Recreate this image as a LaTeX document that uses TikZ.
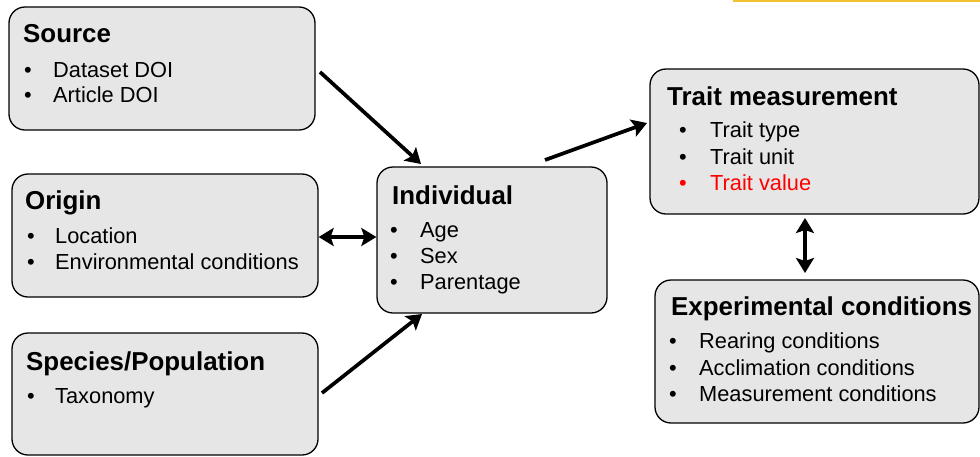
\documentclass[tikz,border=0pt]{standalone}
\usepackage{fontspec}
\setmainfont{Liberation Sans}
\usetikzlibrary{arrows.meta}
\definecolor{boxgray}{HTML}{E6E6E6}
\definecolor{topline}{HTML}{F2C232}
\newcommand\ttlfont{\fontsize{25.9}{30}\selectfont\bfseries}
\newcommand\bdyfont{\fontsize{21.8}{25}\selectfont}
\newcommand\bul[2][30pt]{\makebox[#1][l]{•}#2}
\tikzset{
  box/.style={draw=black, line width=1.3pt, fill=boxgray, rounded corners=16pt, inner sep=0pt},
  ttl/.style={anchor=base west, inner sep=0pt, font=\ttlfont},
  bdy/.style={anchor=base west, inner sep=0pt, font=\bdyfont},
  arr/.style={line width=3.7pt, -{Stealth[length=15pt,width=18pt,inset=3pt]}},
  darr/.style={line width=3.7pt, {Stealth[length=15pt,width=18pt,inset=3pt]}-{Stealth[length=15pt,width=18pt,inset=3pt]}}
}
\begin{document}
\begin{tikzpicture}[x=1pt,y=-1pt]
\useasboundingbox (0,0) rectangle (980,456);
% top yellow line
\coordinate (yl1) at (733,1);
\coordinate (yl2) at (980,1);
\draw[topline, line width=2pt] (yl1) -- (yl2);
% boxes
\node[box, minimum width=306pt, minimum height=123pt] (src) at (162,68.5) {};
\node[box, minimum width=306pt, minimum height=123pt] (org) at (165,235.5) {};
\node[box, minimum width=306pt, minimum height=122pt] (spc) at (165,394) {};
\node[box, minimum width=230pt, minimum height=146pt] (ind) at (492,240) {};
\node[box, minimum width=329pt, minimum height=145pt] (trt) at (814.5,141.5) {};
\node[box, minimum width=324pt, minimum height=143pt] (exp) at (817,351.5) {};
% Source
\node[ttl] (srct) at (23,42) {Source};
\node[bdy] (src1) at (24,77) {\bul[29pt]{Dataset DOI}};
\node[bdy] (src2) at (24,102) {\bul[29pt]{Article DOI}};
% Origin
\node[ttl] (orgt) at (25,209) {Origin};
\node[bdy] (org1) at (27,243) {\bul[28pt]{Location}};
\node[bdy] (org2) at (27,269) {\bul[28pt]{Environmental conditions}};
% Species
\node[ttl] (spct) at (26,370) {Species/Population};
\node[bdy] (spc1) at (27,403) {\bul[28pt]{Taxonomy}};
% Individual
\node[ttl] (indt) at (392,204) {Individual};
\node[bdy] (ind1) at (390,237) {\bul{Age}};
\node[bdy] (ind2) at (390,263) {\bul{Sex}};
\node[bdy] (ind3) at (390,289) {\bul{Parentage}};
% Trait
\node[ttl] (trtt) at (667,105) {Trait measurement};
\node[bdy] (trt1) at (679,137) {\bul[31pt]{Trait type}};
\node[bdy] (trt2) at (679,164) {\bul[31pt]{Trait unit}};
\node[bdy, text=red] (trt3) at (679,190) {\bul[31pt]{Trait value}};
% Experimental
\node[ttl] (expt) at (671,315) {Experimental conditions};
\node[bdy] (exp1) at (669,348) {\bul{Rearing conditions}};
\node[bdy] (exp2) at (669,375) {\bul{Acclimation conditions}};
\node[bdy] (exp3) at (669,401) {\bul{Measurement conditions}};
% connector end points
\coordinate (a1s) at (320,72);   \coordinate (a1e) at (421,164);
\coordinate (a2s) at (545,160);  \coordinate (a2e) at (647,123);
\coordinate (a3s) at (322,393);  \coordinate (a3e) at (422,314);
\coordinate (a4s) at (805,218);  \coordinate (a4e) at (805,273);
% connectors
\draw[arr] (a1s) -- (a1e);
\draw[arr] (a2s) -- (a2e);
\draw[arr] (a3s) -- (a3e);
\draw[darr] (org.east |- 0,237) -- (ind.west |- 0,237);
\draw[darr] (a4s) -- (a4e);
\end{tikzpicture}
\end{document}
